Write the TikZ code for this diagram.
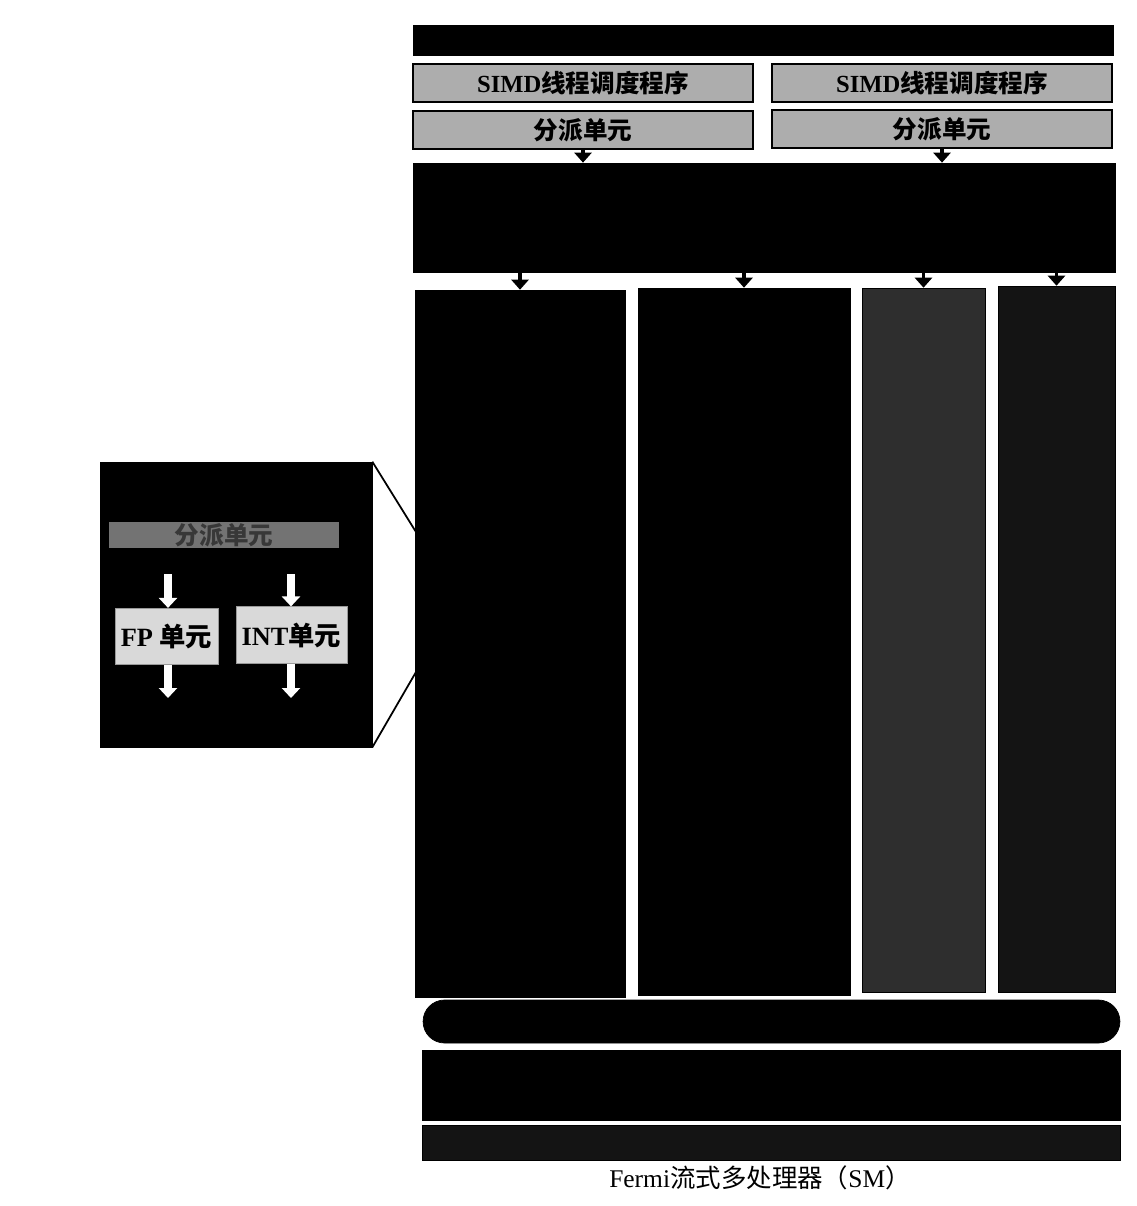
\documentclass[tikz,border=0pt]{standalone}
\usepackage{fontspec}
\setmainfont{Liberation Serif}
\newfontfamily\cjk{Noto Sans CJK SC}
\usetikzlibrary{positioning,arrows.meta}

\tikzset{
  blk/.style={draw=black,fill=black,inner sep=0pt},
  graybox/.style={draw=black,line width=1pt,fill=black!32,inner sep=0pt,
    minimum width=6.8cm,minimum height=0.76cm,font=\fontsize{14}{16}\selectfont\bfseries},
  unitbox/.style={draw=black!40,fill=black!15,inner sep=0pt,minimum height=1.13cm,
    font=\fontsize{15}{17}\selectfont\bfseries},
  blkarrow/.style={line width=2.2pt,-{Triangle[width=0.34cm,length=0.2cm]}},
  whtarrow/.style={draw=white,line width=4pt,-{Triangle[width=0.36cm,length=0.2cm]}},
}

\begin{document}
\begin{tikzpicture}[x=0.02cm,y=-0.02cm]
\useasboundingbox[fill=white] (0,0) rectangle (1136,1206);

% top of the SM
\node (icache) [blk,minimum width=14cm,minimum height=0.6cm] at (763,40) {};
\node (sched1) [graybox] at (583,83) {SIMD{\cjk\bfseries 线程调度程序}};
\node (sched2) [graybox] at (942,83) {SIMD{\cjk\bfseries 线程调度程序}};
\node (disp1) [graybox] at (583,130) {\cjk\bfseries 分派单元};
\node (disp2) [graybox] at (942,129) {\cjk\bfseries 分派单元};
\node (regs) [blk,minimum width=14.04cm,minimum height=2.18cm] at (764,217.5) {};

% columns
\node (col1) [blk,minimum width=4.2cm,minimum height=14.14cm] at (520,643.5) {};
\node (col2) [blk,minimum width=4.24cm,minimum height=14.14cm] at (744,641.5) {};
\node (col3) [blk,fill=black!82,draw=black,minimum width=2.46cm,minimum height=14.08cm] at (923.5,640) {};
\node (col4) [blk,fill=black!92,minimum width=2.34cm,minimum height=14.12cm] at (1056.5,639) {};

% bottom of the SM
\node (ldst) [blk,rounded corners=0.43cm,minimum width=13.94cm,minimum height=0.86cm] at (771.5,1021.5) {};
\node (net) [blk,minimum width=13.96cm,minimum height=1.4cm] at (771,1085) {};
\node (l1) [blk,fill=black!92,minimum width=13.96cm,minimum height=0.7cm] at (771,1142.5) {};
\node (title) at (760,1178) {\fontsize{14.5}{16}\selectfont Fermi{\cjk 流式多处理器（}SM{\cjk ）}};

\draw[blkarrow] (disp1.south) -- (disp1.south |- regs.north);
\draw[blkarrow] (disp2.south) -- (disp2.south |- regs.north);
\foreach \c in {col1,col2,col3,col4}
  \draw[blkarrow] (\c.north |- regs.south) -- (\c.north);

% zoomed core
\node (core) [blk,minimum width=5.44cm,minimum height=5.7cm] at (236,604.5) {};
\node (cdisp) [inner sep=0pt,fill=black!55,minimum width=4.6cm,minimum height=0.52cm,
  text=black!78,font=\fontsize{14}{15}\selectfont\cjk\bfseries] at (224,535) {分派单元};
\node (fp) [unitbox,minimum width=2.06cm] at (166.5,636.5) {FP {\cjk\bfseries 单元}};
\node (int) [unitbox,minimum width=2.22cm] at (291.5,635) {INT{\cjk\bfseries 单元}};
\coordinate (fpin) at (168,574);
\coordinate (intin) at (291,574);
\coordinate (fpout) at (168,698);
\coordinate (intout) at (291,698);
\draw[whtarrow] (fpin) -- (fpin |- fp.north);
\draw[whtarrow] (intin) -- (intin |- int.north);
\draw[whtarrow] (fpin |- fp.south) -- (fpout);
\draw[whtarrow] (intin |- int.south) -- (intout);

% zoom lines
\coordinate (zoomtop) at (416,532);
\coordinate (zoombot) at (416,672);
\draw[line width=1pt] (core.north east) -- (zoomtop);
\draw[line width=1pt] (core.south east) -- (zoombot);
\end{tikzpicture}
\end{document}
